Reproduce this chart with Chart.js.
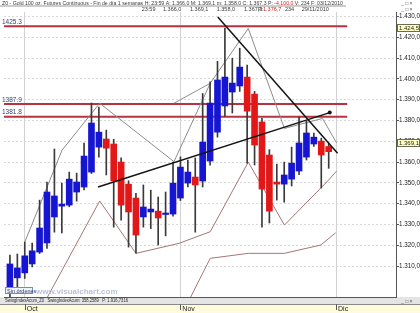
<!DOCTYPE html>
<html>
<head>
<meta charset="utf-8">
<title>Z0 - Gold 100 oz. Futures Continuous</title>
<script src="https://cdn.jsdelivr.net/npm/chart.js@4.4.0/dist/chart.umd.min.js"></script>
<style>
  html, body { margin: 0; padding: 0; background: #fff; }
  canvas { display: block; }
</style>
</head>
<body>
<canvas id="chart" width="420" height="313"></canvas>
<script>
// daily candles, late Sep -> end of Nov 2010 (x = session index)
const openPrices  = [1297.0, 1304.3, 1306.7, 1311.0, 1316.7, 1321.1, 1333.6, 1338.8, 1339.3, 1345.6, 1348.0, 1355.2, 1367.2, 1371.1, 1368.7, 1360.0, 1349.4, 1342.7, 1333.6, 1336.0, 1336.4, 1334.8, 1335.0, 1342.7, 1349.9, 1352.8, 1350.9, 1360.5, 1374.4, 1387.0, 1393.7, 1396.6, 1400.9, 1392.7, 1379.3, 1363.4, 1350.4, 1349.4, 1351.8, 1355.7, 1362.4, 1368.7, 1370.1, 1367.5];
const highPrices  = [1315.3, 1315.8, 1321.5, 1321.0, 1341.7, 1350.4, 1366.3, 1349.9, 1355.2, 1354.7, 1369.2, 1388.4, 1386.5, 1375.4, 1371.0, 1362.0, 1351.0, 1345.0, 1349.0, 1346.5, 1343.2, 1345.6, 1360.0, 1362.5, 1361.0, 1362.0, 1393.0, 1398.6, 1408.5, 1424.5, 1410.0, 1414.8, 1406.7, 1394.0, 1381.0, 1366.0, 1359.0, 1360.0, 1367.2, 1381.7, 1379.8, 1374.0, 1371.5, 1369.1];
const lowPrices   = [1295.0, 1299.0, 1304.0, 1309.6, 1316.0, 1318.5, 1326.3, 1325.9, 1338.5, 1341.2, 1346.6, 1354.5, 1362.4, 1353.8, 1328.7, 1332.1, 1319.1, 1316.2, 1328.7, 1328.0, 1320.1, 1324.5, 1334.0, 1341.5, 1348.0, 1326.3, 1348.0, 1358.5, 1372.0, 1382.1, 1383.6, 1394.0, 1359.5, 1358.6, 1328.7, 1330.7, 1341.7, 1340.7, 1348.5, 1354.0, 1361.0, 1367.5, 1347.5, 1357.0];
const closePrices = [1311.0, 1309.1, 1314.9, 1317.3, 1328.3, 1345.6, 1343.7, 1339.8, 1351.8, 1350.4, 1362.9, 1378.8, 1374.4, 1366.7, 1350.9, 1339.3, 1336.0, 1324.9, 1338.4, 1337.4, 1333.1, 1335.5, 1349.9, 1357.6, 1355.2, 1349.0, 1369.6, 1388.4, 1399.5, 1400.9, 1398.0, 1405.7, 1384.5, 1368.2, 1347.0, 1336.4, 1349.4, 1353.8, 1359.5, 1369.2, 1374.0, 1372.0, 1363.4, 1365.0];

// month ticks (session index) and labels
const monthTicks  = [2, 23, 44];
const monthLabels = ['Oct', 'Nov', 'Dic'];
const priceTicks  = [1310, 1320, 1330, 1340, 1350, 1360, 1370, 1380, 1390, 1400, 1410, 1420, 1430];

// horizontal levels
const levelValues = [1425.3, 1387.9, 1381.8];
const levelEnd = 45.5;
// right axis price tags
const tagValues = [1424.5, 1369.1];

// drawn studies: [index, price]
const swingHigh = [[2.0, 1321.5], [7.04, 1365.8], [12.11, 1388.3], [22.13, 1360.2], [27.02, 1397.9], [32.15, 1424.3], [37.03, 1376.2], [42.16, 1381.0], [44.07, 1369.2]];
const swingHigh2 = [[22.13, 1388.3], [27.02, 1397.9]];
const swingLow = [[4.9, 1294.0], [12.11, 1341.3], [17.0, 1316.1], [22.8, 1320.9], [27.02, 1326.5], [32.15, 1360.0], [37.03, 1329.7], [43.0, 1351.4], [44.07, 1355.7]];
const swingLow2 = [[24.3, 1294.5], [27.02, 1313.7], [32.15, 1316.1], [37.03, 1316.1], [41.93, 1320.1], [43.94, 1326.0]];
const trendDown = [[28.04, 1429.8], [44.2, 1364.3]];
const trendUp = [[11.89, 1348.0], [43.14, 1383.8]];

const X_MIN = -0.8, X_MAX = 52.08;
const Y_MIN = 1295.1, Y_MAX = 1432.2;
const FONT = '"Liberation Sans", Arial, sans-serif';

function fmtEs(v) {
    const s = v.toFixed(1).split('.');
    return s[0].replace(/\B(?=(\d{3})+(?!\d))/g, '.') + ',' + s[1];
}
const pts = arr => arr.map(p => ({ x: p[0], y: p[1] }));

const idx = openPrices.map((_, i) => i);
const bodyColors = idx.map(i => closePrices[i] >= openPrices[i] ? '#1616d2' : '#e21818');

function lineSet(data, color, width, order) {
    return { type: 'line', data: pts(data), borderColor: color, borderWidth: width,
             pointRadius: 0, tension: 0, fill: false, order: order };
}

const datasets = [];
levelValues.forEach(v => {
    datasets.push(lineSet([[X_MIN, v], [levelEnd, v]], '#b73340', 2, 6));
});
datasets.push(lineSet(swingHigh, '#8c8c8c', 1, 5));
datasets.push(lineSet(swingHigh2, '#8c8c8c', 1, 5));
datasets.push(lineSet(swingLow, '#a67676', 1, 5));
datasets.push(lineSet(swingLow2, '#a67676', 1, 5));
datasets.push({
    type: 'bar', data: idx.map(i => ({ x: i, y: [lowPrices[i], highPrices[i]] })),
    backgroundColor: '#3a3a3a', barThickness: 1, grouped: false, order: 4
});
datasets.push({
    type: 'bar', data: idx.map(i => ({ x: i, y: [openPrices[i], closePrices[i]] })),
    backgroundColor: bodyColors, barThickness: 6, minBarLength: 1, grouped: false, order: 3
});
datasets.push(lineSet(trendDown, '#141414', 1.5, 1));
const up = lineSet(trendUp, '#141414', 1.5, 1);
up.pointRadius = [0, 2];
up.pointBackgroundColor = '#141414';
up.pointBorderWidth = 0;
datasets.push(up);

function fitText(c, parts, x, y, width) {
    let total = 0;
    parts.forEach(p => total += c.measureText(p[0]).width);
    c.save();
    c.translate(x, y);
    c.scale(width / total, 1);
    let cx = 0;
    parts.forEach(p => {
        c.fillStyle = p[1];
        c.fillText(p[0], cx, 0);
        cx += c.measureText(p[0]).width;
    });
    c.restore();
}

const decor = {
    id: 'decor',
    beforeDraw(chart) {
        const c = chart.ctx;
        c.save();
        c.fillStyle = '#fff';
        c.fillRect(0, 0, 420, 313);
        c.fillStyle = '#fffcdc';
        c.fillRect(0, 304, 420, 9);
        c.fillStyle = '#e4e4e4';
        c.fillRect(0, 297, 420, 7);
        c.restore();
    },
    afterDatasetsDraw(chart) {
        const c = chart.ctx, y = chart.scales.y;
        c.save();
        // level labels
        c.font = '6.5px ' + FONT;
        c.fillStyle = '#34456e';
        levelValues.forEach(v => c.fillText(String(v), 2, y.getPixelForValue(v) - 2.5));
        // watermark
        c.font = 'bold 8px ' + FONT;
        c.fillStyle = '#b9c2d8';
        c.fillText('www.visualchart.com', 36, 293.5);
        // "Sin órdenes" box
        c.fillStyle = '#eef3fb';
        c.fillRect(5, 287, 28, 7);
        c.strokeStyle = '#6d8fb8';
        c.lineWidth = 1;
        c.strokeRect(5.5, 287.5, 27, 6);
        c.font = '5.5px ' + FONT;
        c.fillStyle = '#2d3f66';
        c.fillText('Sin órdenes', 7, 292.8);
        c.restore();
    },
    afterDraw(chart) {
        const c = chart.ctx, x = chart.scales.x, y = chart.scales.y;
        c.save();
        // header
        c.font = '5.5px ' + FONT;
        c.textBaseline = 'alphabetic';
        fitText(c, [
            ['Z0 - Gold 100 oz. Futures Continuous - Fin de día 1 semanas H: 23:59 A: 1.366,0 M: 1.369,1 m: 1.358,0 C: 1.367,3 P: ', '#3a3a3a'],
            ['-4.100,0', '#d42020'],
            [' V: 234 F: 03/12/2010', '#3a3a3a']
        ], 2, 4.6, 341);
        c.strokeStyle = '#9a9a9a';
        c.lineWidth = 1;
        c.beginPath(); c.moveTo(0, 6); c.lineTo(346, 6); c.stroke();
        const row2 = [['23:59', 141.7, '#3a3a3a'], ['1.366,0', 163, '#3a3a3a'], ['1.369,1', 190, '#3a3a3a'],
                      ['1.358,0', 216.7, '#3a3a3a'], ['1.367,3', 244, '#3a3a3a'], ['P:', 258, '#3a3a3a'],
                      ['1.376,7', 263, '#d42020'], ['234', 285, '#3a3a3a'], ['29/11/2010', 301.7, '#3a3a3a']];
        row2.forEach(r => { c.fillStyle = r[2]; c.fillText(r[0], r[1], 11); });
        c.fillStyle = '#555';
        c.font = '5px ' + FONT;
        ['_ □ ×'].forEach(t => { c.fillText(t, 401, 4.5); c.fillText(t, 401, 10.5); c.fillText(t, 401, 302.5); });
        // strip under plot
        c.strokeStyle = '#8a8a8a';
        c.beginPath(); c.moveTo(0, 304.5); c.lineTo(420, 304.5); c.stroke();
        c.font = '5.5px ' + FONT;
        fitText(c, [['SwingIndexAcum_Z0   SwingIndexAcum: 358,2589   P: 1.916,7316', '#2a2a2a']], 5, 302.3, 123);
        // month tick marks
        c.strokeStyle = '#555';
        monthTicks.forEach(v => {
            const px = Math.round(x.getPixelForValue(v)) + 0.5;
            c.beginPath(); c.moveTo(px, 304.5); c.lineTo(px, 310); c.stroke();
        });
        // price tags on the right axis
        c.font = '6px ' + FONT;
        tagValues.forEach(v => {
            const py = Math.round(y.getPixelForValue(v));
            c.fillStyle = '#ffffc2';
            c.fillRect(397, py - 4, 23, 8);
            c.strokeStyle = '#6b6b50';
            c.strokeRect(397.5, py - 3.5, 22, 7);
            c.fillStyle = '#222';
            c.fillText(fmtEs(v), 399, py + 2.3);
        });
        c.restore();
    }
};

new Chart(document.getElementById('chart').getContext('2d'), {
    type: 'bar',
    data: { datasets: datasets },
    options: {
        responsive: false,
        animation: false,
        devicePixelRatio: 1,
        layout: { padding: { top: 12, left: 0, right: 0, bottom: 0 } },
        plugins: { legend: { display: false }, tooltip: { enabled: false } },
        scales: {
            x: {
                type: 'linear', min: X_MIN, max: X_MAX, offset: false,
                afterBuildTicks: s => { s.ticks = monthTicks.map(v => ({ value: v })); },
                afterFit: s => { s.height = 16; },
                grid: { offset: false, color: '#d2d2d2', drawTicks: false },
                border: { color: '#555' },
                ticks: {
                    callback: v => ' ' + monthLabels[monthTicks.indexOf(v)],
                    align: 'start', padding: 8, autoSkip: false, maxRotation: 0,
                    color: '#222', font: { size: 7, family: FONT }
                }
            },
            y: {
                position: 'right', min: Y_MIN, max: Y_MAX,
                afterBuildTicks: s => { s.ticks = priceTicks.map(v => ({ value: v })); },
                afterFit: s => { s.width = 24; },
                grid: { color: '#d8d8d8', tickLength: 3, tickColor: '#555' },
                border: { color: '#555', dash: [2, 2] },
                ticks: {
                    callback: v => fmtEs(v), padding: 0,
                    color: '#222', font: { size: 6.3, family: FONT }
                }
            }
        }
    },
    plugins: [decor]
});
</script>
</body>
</html>
